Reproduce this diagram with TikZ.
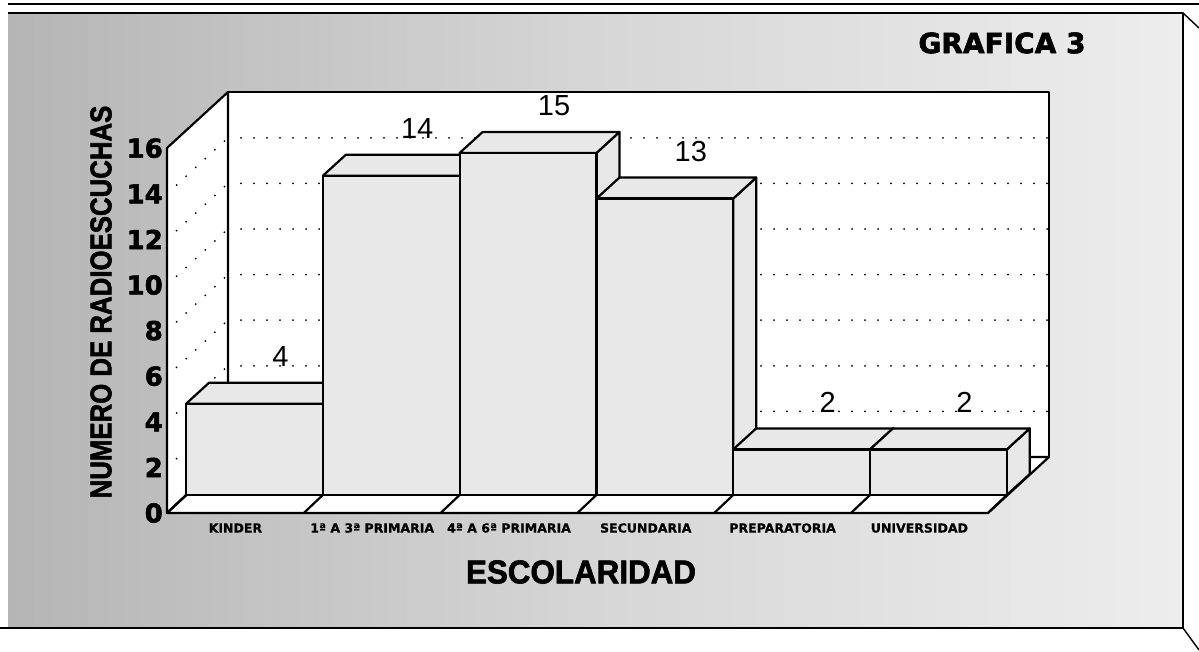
\documentclass[tikz,border=0pt]{standalone}
\usepackage{fontspec}
\usepackage{graphicx}
\setmainfont{Liberation Sans}
\newfontfamily\heavy{DejaVu Sans}[BoldFeatures={FakeBold=2}]
\newfontfamily\semiheavy{DejaVu Sans}[BoldFeatures={FakeBold=0.8}]
\newfontfamily\heavyarial{Liberation Sans}[BoldFeatures={FakeBold=2}]
\newcommand{\titlefont}{\heavy\bfseries\fontsize{28}{30}\selectfont}
\newcommand{\numfont}{\heavy\bfseries\fontsize{26}{28}\selectfont}
\newcommand{\catfont}{\semiheavy\bfseries\fontsize{12.5}{14}\selectfont}
\newcommand{\valfont}{\fontsize{29}{31}\selectfont}
\newcommand{\axfont}{\heavyarial\bfseries\fontsize{30}{32}\selectfont}
\newcommand{\xtfont}{\heavyarial\bfseries\fontsize{33}{35}\selectfont}
\begin{document}
\begin{tikzpicture}[x=1pt,y=-1pt,line join=round,
  edge/.style={draw=black,line width=2.2pt},
  gridline/.style={draw=black,line width=2pt,line cap=round,dash pattern=on 0pt off 13pt},
  barface/.style={fill=gray!18,draw=black,line width=2.2pt},
  wall/.style={fill=white,draw=black,line width=2.2pt},
  txt/.style={inner sep=0pt,text=black}]
\def\s{22.8}
\def\w{136.8}
\useasboundingbox (0,0) rectangle (1199,652);
% background
\shade[left color=gray!58,right color=gray!14,middle color=gray!32] (8,13) rectangle (1183,628);
\draw[line width=1.6pt] (8,4) -- (1199,4);
\draw[edge] (8,13) -- (1183,13) -- (1183,628) -- (0,628);
\draw[line width=1.4pt] (1183,13) -- (1199,28);
\draw[line width=1.4pt] (1183,628) -- (1199,650);
% back wall
\draw[wall] (228,92) rectangle (1049,457);
\foreach \v in {2,4,...,14} {
  \draw[gridline] (228,{457-\s*\v}) -- (1049,{457-\s*\v});
}
% left wall
\draw[wall] (167,513) -- (167,148) -- (228,92) -- (228,457) -- cycle;
\foreach \v in {2,4,...,14} {
  \draw[gridline] (167,{513-\s*\v}) -- (228,{457-\s*\v});
}
% floor
\draw[wall] (167,513) -- (988,513) -- (1049,457) -- (228,457) -- cycle;
\foreach \i in {0,...,6} {
  \draw[edge] ({167+\w*\i},513) -- ({186+\w*\i},495);
}
% bars
\foreach \i/\v in {0/4,1/14,2/15,3/13,4/2,5/2} {
  \pgfmathsetmacro{\xa}{186+\w*\i}
  \pgfmathsetmacro{\xb}{186+\w*(\i+1)}
  \pgfmathsetmacro{\yt}{495-\s*\v}
  \draw[barface] (\xb,\yt) -- ({\xb+23},{\yt-21}) -- ({\xb+23},474) -- (\xb,495) -- cycle;
  \draw[barface] (\xa,\yt) -- ({\xa+23},{\yt-21}) -- ({\xb+23},{\yt-21}) -- (\xb,\yt) -- cycle;
  \draw[barface] (\xa,495) rectangle (\xb,\yt);
  \node[txt,font=\valfont] (val\i) at ({(\xa+\xb)/2+26},{\yt-47}) {\v};
}
% y axis numbers
\foreach \v in {0,2,...,16} {
  \node[txt,font=\numfont,anchor=east] (y\v) at (163,{513-\s*\v}) {\v};
}
% category labels
\foreach \i/\t in {0/KINDER,1/1ª A 3ª PRIMARIA,2/4ª A 6ª PRIMARIA,3/SECUNDARIA,4/PREPARATORIA,5/UNIVERSIDAD} {
  \node[txt,font=\catfont] (cat\i) at ({167+\w*(\i+0.5)},528) {\t};
}
% titles
\node[txt,rotate=90] (ytitle) at (101,302) {\scalebox{0.86}[1]{\axfont NUMERO DE RADIOESCUCHAS}};
\node[txt,font=\xtfont] (xtitle) at (581,572) {\scalebox{0.95}[1]{ESCOLARIDAD}};
\node[txt,font=\titlefont] (title) at (1002,43) {GRAFICA 3};
\end{tikzpicture}
\end{document}
